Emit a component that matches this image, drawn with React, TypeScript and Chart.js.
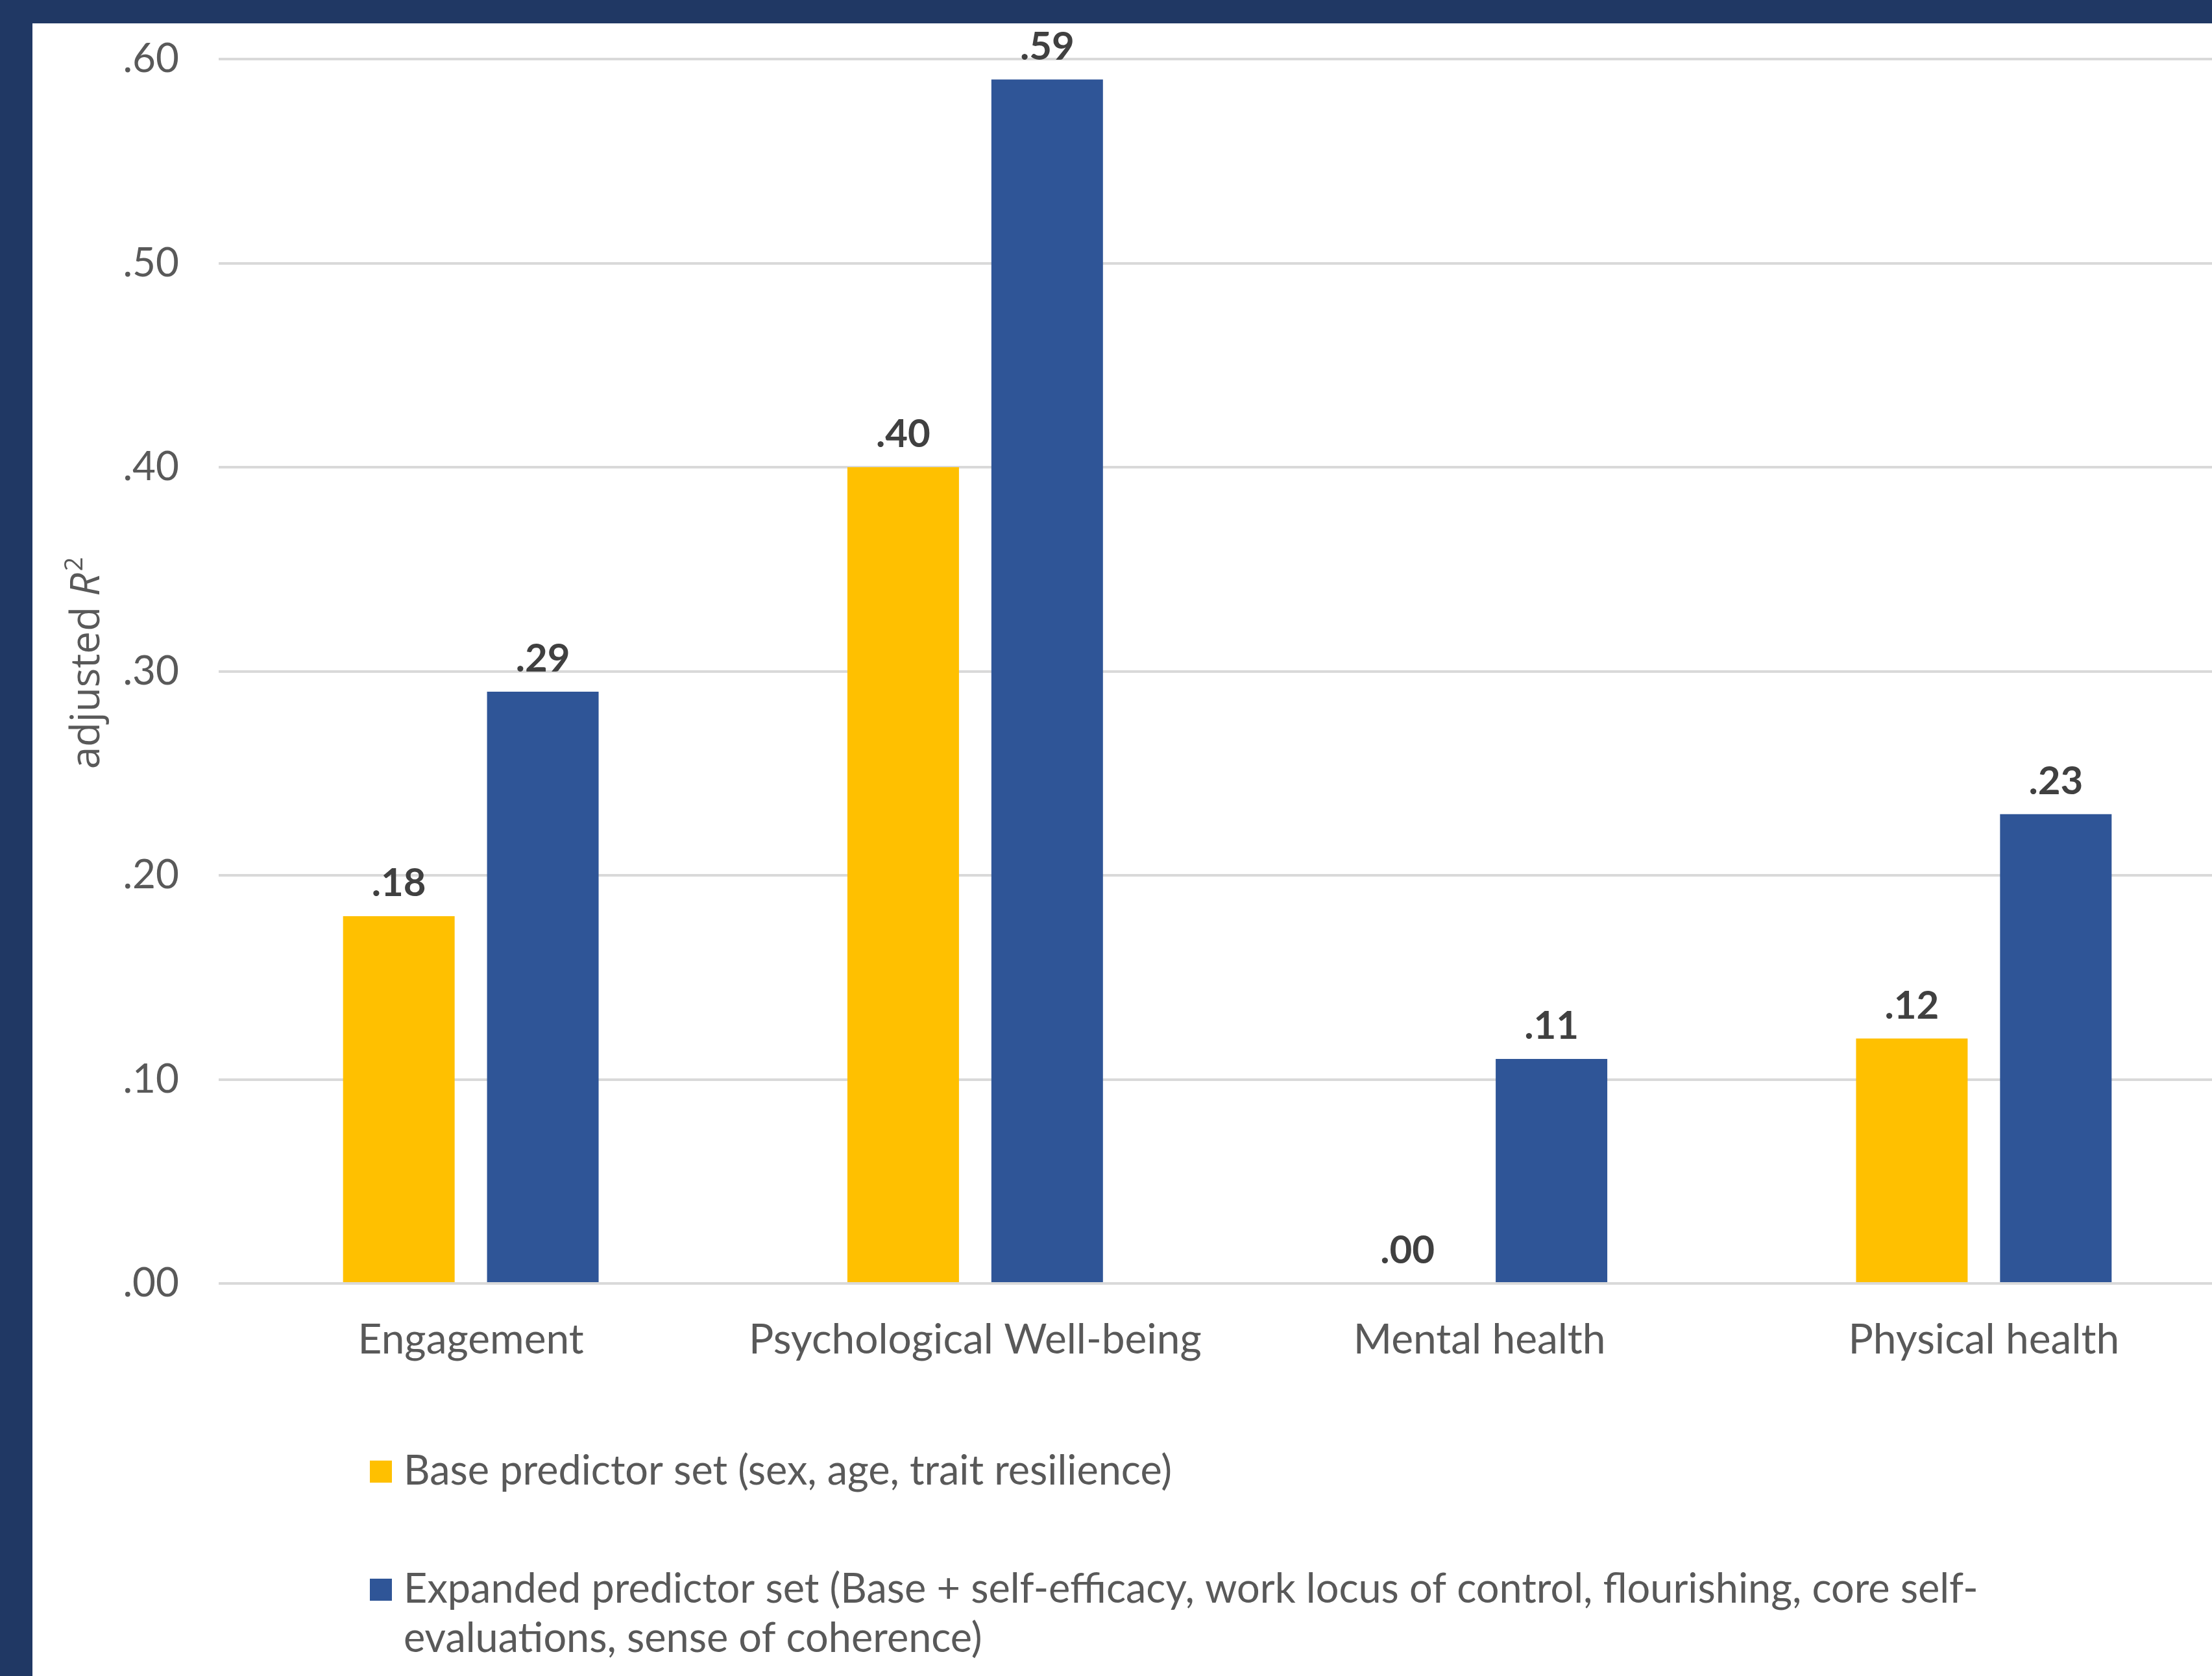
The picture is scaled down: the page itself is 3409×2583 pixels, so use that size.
import React, { useEffect, useRef } from "react";
import { Chart, registerables } from "chart.js";

Chart.register(...registerables);

// ---------- data ----------
const categories = ["Engagement", "Psychological Well-being", "Mental health", "Physical health"];
const baseValues = [0.18, 0.4, 0.0, 0.12];
const expandedValues = [0.29, 0.59, 0.11, 0.23];
const seriesNames = [
  "Base predictor set (sex, age, trait resilience)",
  "Expanded predictor set (Base + self-efficacy, work locus of control, flourishing, core self-evaluations, sense of coherence)",
];
const legendLines = [
  ["Base predictor set (sex, age, trait resilience)"],
  [
    "Expanded predictor set (Base + self-efficacy, work locus of control, flourishing, core self-",
    "evaluations, sense of coherence)",
  ],
];
const seriesColors = ["#FFC000", "#2F5597"];
const yMin = 0;
const yMax = 0.6;
const yStep = 0.1;
const yTitleParts = { plain: "adjusted ", italic: "R", sup: "2" };

const fmt = (v: number) => v.toFixed(2).replace(/^0/, "").replace(/^-0/, "-");

const TEXT = "#595959";
const LABEL = "#404040";

const dataLabelPlugin = {
  id: "dataLabels",
  afterDatasetsDraw(chart: any) {
    const ctx = chart.ctx;
    ctx.save();
    ctx.font = "bold 60px Lato";
    ctx.fillStyle = LABEL;
    ctx.textAlign = "center";
    ctx.textBaseline = "middle";
    chart.data.datasets.forEach((ds: any, i: number) => {
      const meta = chart.getDatasetMeta(i);
      meta.data.forEach((el: any, j: number) => {
        ctx.fillText(fmt(ds.data[j]), el.x, el.y - 50);
      });
    });
    ctx.restore();
  },
};

const yTitlePlugin = {
  id: "yTitle",
  afterDraw(chart: any) {
    const ctx = chart.ctx;
    ctx.save();
    ctx.translate(85, 986);
    ctx.rotate(-Math.PI / 2);
    ctx.fillStyle = TEXT;
    ctx.textBaseline = "middle";
    ctx.textAlign = "left";
    const fPlain = '62px "Open Sans"';
    const fItal = 'italic 62px "Open Sans"';
    const fSup = '38px "Open Sans"';
    ctx.font = fPlain;
    const w1 = ctx.measureText(yTitleParts.plain).width;
    ctx.font = fItal;
    const w2 = ctx.measureText(yTitleParts.italic).width;
    ctx.font = fSup;
    const w3 = ctx.measureText(yTitleParts.sup).width;
    let x = -(w1 + w2 + w3 + 3) / 2;
    ctx.font = fPlain;
    ctx.fillText(yTitleParts.plain, x, 0);
    x += w1;
    ctx.font = fItal;
    ctx.fillText(yTitleParts.italic, x, 0);
    x += w2 + 3;
    ctx.font = fSup;
    ctx.fillText(yTitleParts.sup, x, -19);
    ctx.restore();
  },
};

const legendPlugin = {
  id: "customLegend",
  afterDraw(chart: any) {
    const ctx = chart.ctx;
    ctx.save();
    const boxX = 520;
    const box = 34;
    const textX = 572;
    const rowCenters = [2232, 2414];
    const lineGap = 76;
    ctx.font = "63px Lato";
    ctx.textBaseline = "middle";
    ctx.textAlign = "left";
    chart.data.datasets.forEach((ds: any, i: number) => {
      const cy = rowCenters[i];
      ctx.fillStyle = ds.backgroundColor;
      ctx.fillRect(boxX, cy - box / 2, box, box);
      ctx.fillStyle = TEXT;
      legendLines[i].forEach((line, k) => {
        ctx.fillText(line, textX, cy + k * lineGap);
      });
    });
    ctx.restore();
  },
};

export default function App() {
  const ref = useRef<HTMLCanvasElement | null>(null);

  useEffect(() => {
    if (!ref.current) return;
    Chart.defaults.font.family = "Lato";
    const chart = new Chart(ref.current, {
      type: "bar",
      data: {
        labels: categories,
        datasets: [
          {
            label: seriesNames[0],
            data: baseValues,
            backgroundColor: seriesColors[0],
            categoryPercentage: 0.571,
            barPercentage: 0.775,
          },
          {
            label: seriesNames[1],
            data: expandedValues,
            backgroundColor: seriesColors[1],
            categoryPercentage: 0.571,
            barPercentage: 0.775,
          },
        ],
      },
      options: {
        responsive: false,
        animation: false,
        devicePixelRatio: 1,
        layout: { padding: { top: 55, right: 24, bottom: 485, left: 0 } },
        plugins: {
          legend: { display: false },
          tooltip: { enabled: false },
          title: { display: false },
        },
        scales: {
          x: {
            grid: { display: false, drawTicks: false },
            border: { display: false },
            ticks: {
              color: TEXT,
              font: { size: 64, family: "Lato" },
              padding: 49,
              maxRotation: 0,
              autoSkip: false,
            },
            afterFit(scale: any) {
              scale.height = 120;
            },
          },
          y: {
            min: yMin,
            max: yMax,
            grid: { color: "#D9D9D9", lineWidth: 4, drawTicks: false },
            border: { display: false },
            ticks: {
              stepSize: yStep,
              color: TEXT,
              font: { size: 62, family: "Lato" },
              padding: 61,
              callback: (v: any) => fmt(Number(v)),
            },
            afterFit(scale: any) {
              scale.width = 287;
              scale.paddingTop = 0;
              scale.paddingBottom = 0;
            },
          },
        },
      },
      plugins: [dataLabelPlugin, yTitlePlugin, legendPlugin],
    });
    return () => chart.destroy();
  }, []);

  return (
    <div
      style={{
        position: "fixed",
        left: 0,
        top: 0,
        width: 3409,
        height: 2583,
        background: "#203864",
        overflow: "hidden",
      }}
    >
      <div
        style={{
          position: "absolute",
          left: 50,
          top: 36,
          width: 3420,
          height: 2547,
          background: "#FFFFFF",
        }}
      >
        <canvas ref={ref} width={3420} height={2547} style={{ display: "block" }} />
      </div>
    </div>
  );
}
